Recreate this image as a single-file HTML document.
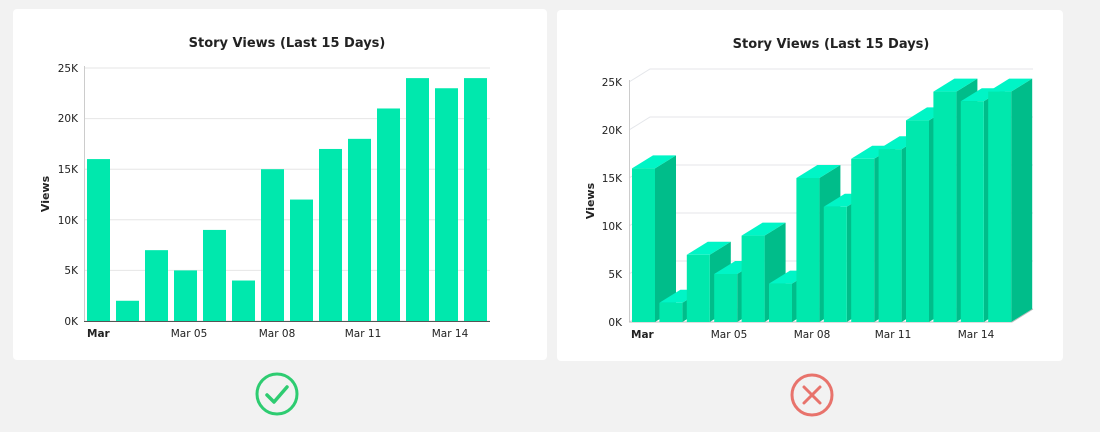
<!DOCTYPE html>
<html><head><meta charset="utf-8"><style>
html,body{margin:0;padding:0;background:#f2f2f2;}
svg{display:block;font-family:"DejaVu Sans","Liberation Sans",sans-serif;}
</style></head><body>
<svg id="s" width="1100" height="432" viewBox="0 0 1100 432">
<rect x="0" y="0" width="1100" height="432" fill="#f2f2f2"/>
<rect x="13" y="9" width="534" height="351" rx="4" fill="#fff"/>
<rect x="557" y="10" width="506" height="351" rx="4" fill="#fff"/>
<g id="g1"></g>
<g id="g2"></g>
<g font-size="10.5" fill="#222">
<text x="287" y="47" text-anchor="middle" font-size="13" font-weight="bold">Story Views (Last 15 Days)</text>
<text transform="translate(49,194) rotate(-90)" text-anchor="middle" font-size="11" font-weight="bold">Views</text>
<text x="78" y="72" text-anchor="end">25K</text>
<text x="78" y="122" text-anchor="end">20K</text>
<text x="78" y="173" text-anchor="end">15K</text>
<text x="78" y="224" text-anchor="end">10K</text>
<text x="78" y="274" text-anchor="end">5K</text>
<text x="78" y="325" text-anchor="end">0K</text>
<text x="87" y="337" font-weight="bold">Mar</text>
<text x="189" y="337" text-anchor="middle">Mar 05</text>
<text x="277" y="337" text-anchor="middle">Mar 08</text>
<text x="363" y="337" text-anchor="middle">Mar 11</text>
<text x="450" y="337" text-anchor="middle">Mar 14</text>

<text x="831" y="48" text-anchor="middle" font-size="13" font-weight="bold">Story Views (Last 15 Days)</text>
<text transform="translate(594,201) rotate(-90)" text-anchor="middle" font-size="11" font-weight="bold">Views</text>
<text x="622" y="86" text-anchor="end">25K</text>
<text x="622" y="134" text-anchor="end">20K</text>
<text x="622" y="182" text-anchor="end">15K</text>
<text x="622" y="230" text-anchor="end">10K</text>
<text x="622" y="278" text-anchor="end">5K</text>
<text x="622" y="326" text-anchor="end">0K</text>
<text x="631" y="338" font-weight="bold">Mar</text>
<text x="729" y="338" text-anchor="middle">Mar 05</text>
<text x="812" y="338" text-anchor="middle">Mar 08</text>
<text x="893" y="338" text-anchor="middle">Mar 11</text>
<text x="976" y="338" text-anchor="middle">Mar 14</text>
</g>
<circle cx="277" cy="394" r="20" fill="none" stroke="#2ecc71" stroke-width="3"/>
<polyline points="267,395 274,402 287,387" fill="none" stroke="#2ecc71" stroke-width="3.5" stroke-linecap="round" stroke-linejoin="round"/>
<circle cx="812" cy="395" r="20" fill="none" stroke="#e8736c" stroke-width="3"/>
<path d="M804,387 L820,403 M820,387 L804,403" stroke="#e8736c" stroke-width="3" stroke-linecap="round"/>
</svg>
<script>
var v=[16,2,7,5,9,4,15,12,17,18,21,24,23,24];
var ns="http://www.w3.org/2000/svg";
function el(g,t,a){var e=document.createElementNS(ns,t);for(var k in a)e.setAttribute(k,a[k]);g.appendChild(e);return e;}
var g1=document.getElementById('g1');
for(var i=0;i<=5;i++){var y=321-i*50.6;el(g1,'line',{x1:84,x2:490,y1:y,y2:y,stroke:'#e6e6e6','stroke-width':1});}
el(g1,'line',{x1:84.5,x2:84.5,y1:66,y2:321,stroke:'#ccc'});
v.forEach(function(d,i){var x=87+i*29,h=d*10.12;el(g1,'rect',{x:x,y:321-h,width:23,height:h,fill:'#00e8ad'});});
el(g1,'line',{x1:84,x2:490,y1:321.5,y2:321.5,stroke:'#555'});
var g2=document.getElementById('g2');
var dx=21,dy=-13;
for(var i=0;i<=5;i++){var y=322-i*48;el(g2,'polyline',{points:(629)+','+y+' '+(629+dx)+','+(y+dy)+' 1033,'+(y+dy),fill:'none',stroke:'#e4e6ea'});}
el(g2,'line',{x1:629.5,x2:629.5,y1:80,y2:322,stroke:'#ccc'});
el(g2,'polyline',{points:'629,322 1012,322 1033,309',fill:'none',stroke:'#bbb'});
v.forEach(function(d,i){var x=632+i*27.4,w=23,h=d*9.6,t=322-h;
el(g2,'polygon',{points:(x+w)+','+t+' '+(x+w+dx)+','+(t+dy)+' '+(x+w+dx)+','+(322+dy)+' '+(x+w)+',322',fill:'#00bd8a'});
el(g2,'polygon',{points:x+','+t+' '+(x+dx)+','+(t+dy)+' '+(x+w+dx)+','+(t+dy)+' '+(x+w)+','+t,fill:'#00f5c6'});
el(g2,'rect',{x:x,y:t,width:w,height:h,fill:'#00e8ad'});
});
</script>
</body></html>
